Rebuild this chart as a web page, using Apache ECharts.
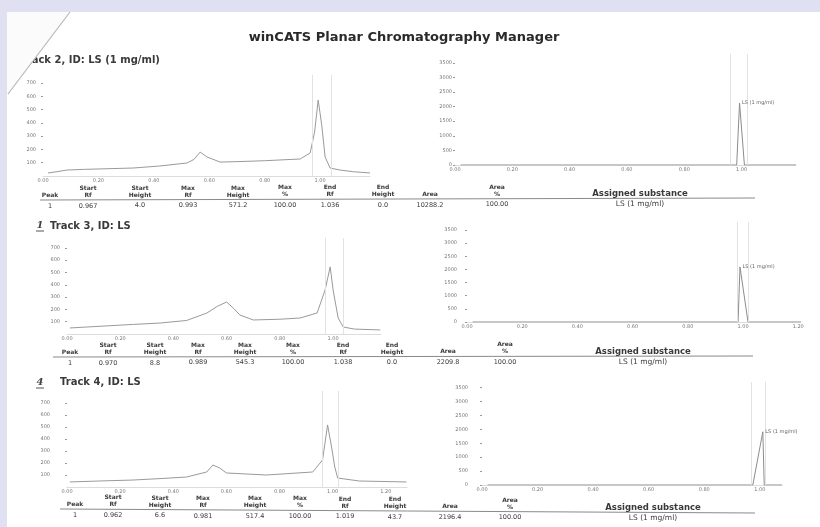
<!DOCTYPE html>
<html>
<head>
<meta charset="utf-8">
<script src="https://cdn.jsdelivr.net/npm/echarts@6/dist/echarts.min.js"></script>
<style>
  html, body { margin: 0; padding: 0; background: #ffffff; }
  #chart { width: 820px; height: 527px; }
</style>
</head>
<body>
<div id="chart"></div>
<script>
// ---- report text ----
const reportTitle = 'winCATS Planar Chromatography Manager';
const trackTitles = ['Track 2, ID: LS (1 mg/ml)', 'Track 3, ID: LS', 'Track 4, ID: LS'];
const laneMarks = ['', '1', '4'];

// ---- peak table (one entry per track) ----
const peakHeaders = ['Peak', 'Start\nRf', 'Start\nHeight', 'Max\nRf', 'Max\nHeight', 'Max\n%', 'End\nRf', 'End\nHeight'];
const areaHeaders = ['Area', 'Area\n%', 'Assigned substance'];
const peakNo = [1, 1, 1];
const startRf = [0.967, 0.970, 0.962];
const startHeight = [4.0, 8.8, 6.6];
const maxRf = [0.993, 0.989, 0.981];
const maxHeight = [571.2, 545.3, 517.4];
const maxPercent = [100.00, 100.00, 100.00];
const endRf = [1.036, 1.038, 1.019];
const endHeight = [0.0, 0.0, 43.7];
const areaValue = [10288.2, 2209.8, 2196.4];
const areaPercent = [100.00, 100.00, 100.00];
const assignedSubstance = ['LS (1 mg/ml)', 'LS (1 mg/ml)', 'LS (1 mg/ml)'];

// ---- densitograms (Rf, AU) ----
const track2Rf = [0.018, 0.05, 0.087, 0.15, 0.22, 0.325, 0.42, 0.52, 0.545, 0.567, 0.592, 0.639, 0.70, 0.80, 0.928, 0.964, 0.98, maxRf[0], 1.006, 1.018, 1.036, 1.072, 1.12, 1.18];
const track2Au = [23, 32, 45, 50, 54, 60, 75, 98, 125, 180, 143, 105, 108, 115, 128, 173, 330, maxHeight[0], 380, 143, 60, 45, 32, 23];
const track3Rf = [0.011, 0.06, 0.15, 0.25, 0.35, 0.45, 0.526, 0.565, 0.60, 0.625, 0.65, 0.70, 0.80, 0.876, 0.94, 0.97, maxRf[1], 1.0, 1.019, 1.038, 1.08, 1.177];
const track3Au = [49, 55, 66, 78, 89, 110, 171, 225, 260, 210, 154, 114, 120, 130, 171, 358, maxHeight[1], 358, 130, 57, 40, 33];
const track4Rf = [0.011, 0.12, 0.248, 0.35, 0.45, 0.526, 0.549, 0.575, 0.60, 0.75, 0.925, 0.962, maxRf[2], 0.996, 1.008, 1.019, 1.10, 1.278];
const track4Au = [42, 50, 58, 70, 83, 125, 183, 158, 117, 100, 125, 225, maxHeight[2], 333, 167, 75, 50, 42];

// ---- integrated peaks with substance assignment (Rf, AU) ----
const peak2Rf = [0.02, 0.983, 0.993, 1.010, 1.19];
const peak2Au = [0, 0, 2123, 0, 0];
const peak3Rf = [0.02, 0.982, 0.989, 1.018, 1.21];
const peak3Au = [0, 0, 2093, 0, 0];
const peak4Rf = [0.02, 0.975, 1.011, 1.016, 1.08];
const peak4Au = [0, 0, 1912, 0, 0];
const peakWindowRf = [[0.965, 1.021], [0.982, 1.018], [0.968, 1.020]];

// ---- layout ----
const panels = [
  { left: 43,  top: 75,  width: 327, height: 101, xMax: 1.18, yMax: 760,  yStep: 100, yOffset: 5,  yMin: false },
  { left: 67,  top: 238, width: 314, height: 96,  xMax: 1.18, yMax: 780,  yStep: 100, yOffset: 5,  yMin: false },
  { left: 67,  top: 391, width: 340, height: 96,  xMax: 1.28, yMax: 800,  yStep: 100, yOffset: 15, yMin: false },
  { left: 455, top: 54,  width: 341, height: 111, xMax: 1.19, yMax: 3800, yStep: 500, yOffset: 1,  yMin: true },
  { left: 467, top: 222, width: 334, height: 100, xMax: 1.21, yMax: 3800, yStep: 500, yOffset: 8,  yMin: true },
  { left: 482, top: 382, width: 300, height: 103, xMax: 1.08, yMax: 3700, yStep: 500, yOffset: 12, yMin: true }
];
const titlePos = [[21, 60], [50, 226], [60, 382]];
const markPos = [null, [40, 225], [40, 382]];
const tables = [
  { ruleY: 200, skew: -2, x0: 40, x1: 755, cols: [50, 88, 140, 188, 238, 285, 330, 383], right: [430, 497, 640] },
  { ruleY: 357, skew: -1, x0: 53, x1: 753, cols: [70, 108, 155, 198, 245, 293, 343, 392], right: [448, 505, 643] },
  { ruleY: 509, skew: 4,  x0: 60, x1: 755, cols: [75, 113, 160, 203, 255, 300, 345, 395], right: [450, 510, 653] }
];

const FONT = '"DejaVu Sans", "Liberation Sans", sans-serif';
const INK = '#3a3a3a';
const CURVE = '#9a9a9a';

function zip(a, b) { return a.map((v, i) => [v, b[i]]); }

const grids = panels.map(p => ({ left: p.left, top: p.top, width: p.width, height: p.height }));
const xAxes = panels.map((p, i) => ({
  type: 'value', gridIndex: i, min: 0, max: p.xMax, interval: 0.2,
  axisLine: { show: true, lineStyle: { color: '#dcdcdc', width: 1 } },
  axisTick: { show: false },
  splitLine: { show: false },
  axisLabel: { fontSize: 5, color: '#777', margin: 2, fontFamily: FONT, showMaxLabel: false,
               formatter: v => v.toFixed(2) }
}));
const yAxes = panels.map((p, i) => ({
  type: 'value', gridIndex: i, min: 0, max: p.yMax, interval: p.yStep, offset: p.yOffset,
  axisLine: { show: false },
  axisTick: { show: true, length: 2, lineStyle: { color: '#999' } },
  splitLine: { show: false },
  axisLabel: { fontSize: 5, color: '#777', margin: 2, fontFamily: FONT,
               showMaxLabel: false, showMinLabel: p.yMin, formatter: v => String(v) }
}));

const faintMark = (pair) => ({
  silent: true, symbol: 'none', label: { show: false },
  lineStyle: { color: '#e2e2e2', type: 'solid', width: 1 },
  data: pair.map(v => ({ xAxis: v }))
});

const curves = [zip(track2Rf, track2Au), zip(track3Rf, track3Au), zip(track4Rf, track4Au)];
const peaks = [zip(peak2Rf, peak2Au), zip(peak3Rf, peak3Au), zip(peak4Rf, peak4Au)];

const series = [];
curves.forEach((d, i) => {
  series.push({
    type: 'line', xAxisIndex: i, yAxisIndex: i, data: d, showSymbol: false, animation: false,
    lineStyle: { color: CURVE, width: 1 },
    markLine: faintMark([startRf[i], endRf[i]])
  });
});
peaks.forEach((d, i) => {
  series.push({
    type: 'line', xAxisIndex: i + 3, yAxisIndex: i + 3, data: d, showSymbol: false, animation: false,
    lineStyle: { color: '#8c8c8c', width: 1 },
    markLine: faintMark(peakWindowRf[i]),
    // substance name written beside the top of each assigned peak
    markPoint: {
      silent: true, symbol: 'circle', symbolSize: 1,
      itemStyle: { color: 'rgba(0,0,0,0)' },
      label: { show: true, position: 'right', distance: 2, fontSize: 5, color: '#666', fontFamily: FONT,
               formatter: assignedSubstance[i] },
      data: [{ coord: d[2] }]
    }
  });
});

// ---- static report decoration and tables ----
const graphic = [];
graphic.push({ type: 'rect', z: 0, shape: { x: 0, y: 0, width: 820, height: 12 }, style: { fill: '#dfe0f1' } });
graphic.push({ type: 'rect', z: 0, shape: { x: 0, y: 0, width: 7, height: 527 }, style: { fill: '#dfe0f1' } });

function txt(x, y, text, font, fill, align, valign, lh) {
  return { type: 'text', x: x, y: y, z: 5,
    style: { text: text, font: font, fill: fill, align: align, verticalAlign: valign,
             textAlign: align, textVerticalAlign: valign, lineHeight: lh || undefined } };
}

graphic.push(txt(404, 38, reportTitle, 'bold 13px ' + FONT, '#2a2a2a', 'center', 'middle'));
trackTitles.forEach((t, i) => {
  graphic.push(txt(titlePos[i][0], titlePos[i][1], t, 'bold 10px ' + FONT, INK, 'left', 'middle'));
  if (markPos[i]) {
    graphic.push(txt(markPos[i][0], markPos[i][1], laneMarks[i], 'italic bold 10px "DejaVu Serif", serif', '#444', 'center', 'middle'));
    graphic.push({ type: 'line', z: 5, shape: { x1: markPos[i][0] - 4, y1: markPos[i][1] + 6, x2: markPos[i][0] + 4, y2: markPos[i][1] + 6 },
                   style: { stroke: '#555', lineWidth: 1 } });
  }
});

tables.forEach((t, i) => {
  const yAt = (x, base) => base + t.skew * (x - t.x0) / (t.x1 - t.x0);
  graphic.push({ type: 'line', z: 5, shape: { x1: t.x0, y1: t.ruleY, x2: t.x1, y2: t.ruleY + t.skew },
                 style: { stroke: '#8a8a8a', lineWidth: 1 } });
  const leftVals = [String(peakNo[i]), startRf[i].toFixed(3), startHeight[i].toFixed(1), maxRf[i].toFixed(3),
                    maxHeight[i].toFixed(1), maxPercent[i].toFixed(2), endRf[i].toFixed(3), endHeight[i].toFixed(1)];
  peakHeaders.forEach((h, k) => {
    const x = t.cols[k];
    graphic.push(txt(x, yAt(x, t.ruleY - 1), h, 'bold 6px ' + FONT, INK, 'center', 'bottom', 7));
    graphic.push(txt(x, yAt(x, t.ruleY + 6), leftVals[k], '6.5px ' + FONT, INK, 'center', 'middle'));
  });
  const rightVals = [areaValue[i].toFixed(1), areaPercent[i].toFixed(2), assignedSubstance[i]];
  areaHeaders.forEach((h, k) => {
    const x = t.right[k];
    const f = k === 2 ? 'bold 8.5px ' + FONT : 'bold 6px ' + FONT;
    graphic.push(txt(x, yAt(x, t.ruleY - 1), h, f, INK, 'center', 'bottom', 7));
    const fv = k === 2 ? '7.5px ' + FONT : '6.5px ' + FONT;
    graphic.push(txt(x, yAt(x, t.ruleY + 6), rightVals[k], fv, INK, 'center', 'middle'));
  });
});

// folded page corner
graphic.push({ type: 'polygon', z: 20, shape: { points: [[7, 12], [70, 12], [8, 94], [7, 94]] },
               style: { fill: '#fbfbfb' } });
graphic.push({ type: 'line', z: 21, shape: { x1: 8, y1: 94, x2: 70, y2: 12 },
               style: { stroke: '#b8b8b8', lineWidth: 1.2 } });

const chart = echarts.init(document.getElementById('chart'), null, { renderer: 'canvas' });
chart.setOption({
  backgroundColor: '#ffffff',
  animation: false,
  grid: grids,
  xAxis: xAxes,
  yAxis: yAxes,
  series: series,
  graphic: graphic
});
</script>
</body>
</html>
